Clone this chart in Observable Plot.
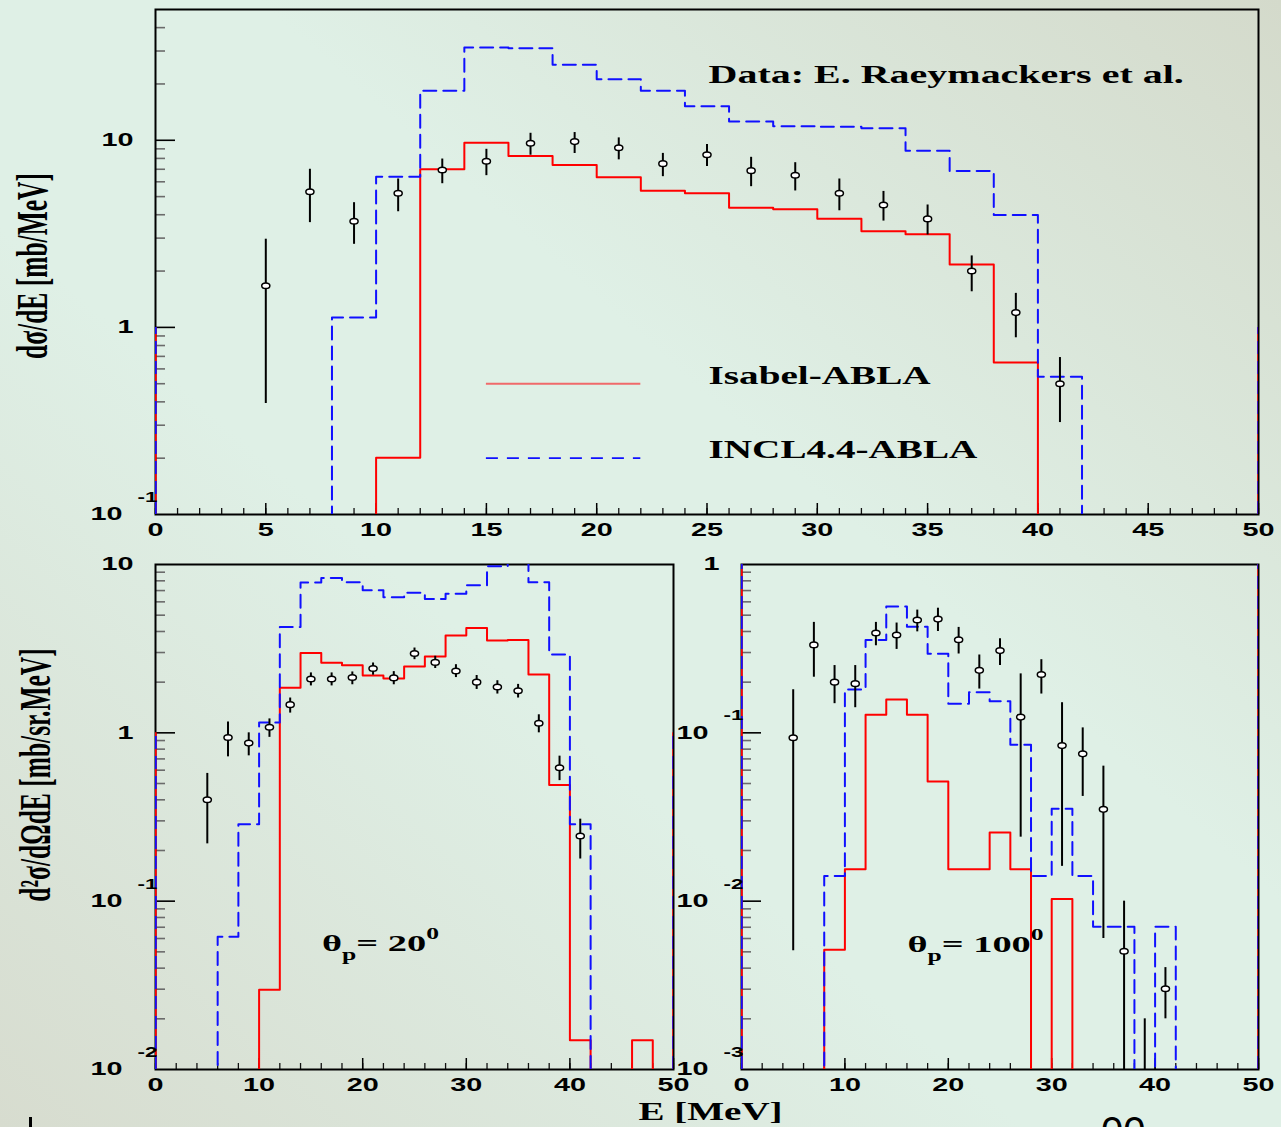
<!DOCTYPE html>
<html>
<head>
<meta charset="utf-8">
<script src="https://cdn.jsdelivr.net/npm/d3@7"></script>
<script src="https://cdn.jsdelivr.net/npm/@observablehq/plot@0.6"></script>
<style>
  html, body { margin: 0; padding: 0; background: #dcebe2; }
  #page { position: relative; width: 1281px; height: 1127px; overflow: hidden;
    background: linear-gradient(to bottom left, #d4dacb 0%, #dff0e6 40%, #dff0e6 60%, #d7dccf 100%); }
  #page svg { position: absolute; }
  .artifact { position: absolute; font-family: 'Liberation Sans', Arial, sans-serif; color: #000; }
</style>
</head>
<body>
<div id="page"></div>
<script>
// ---------------- DATA ----------------
// histogram bins (2 MeV wide), low edges
const binLow = [0,2,4,6,8,10,12,14,16,18,20,22,24,26,28,30,32,34,36,38,40,42,44,46,48];
const binHigh = 50;

// Top panel: d sigma / dE [mb/MeV]
const topIsabel = [0,0,0,0,0, 0.201,7.0,9.7,8.24,7.38,6.34,5.38,5.21,4.36,4.28,3.81,3.26,3.15,2.17,0.65, 0,0,0,0,0];
const topIncl   = [0,0,0,0, 1.13,6.39,18.4,31.3,31.0,25.3,21.2,18.4,15.2,12.6,11.9,11.8,11.6,8.8,6.85,3.99,0.544, 0,0,0,0];
const topDataE  = [5,7,9,11,13,15,17,19,21,23,25,27,29,31,33,35,37,39,41];
const topDataV  = [1.67,5.31,3.69,5.21,6.94,7.72,9.64,9.84,9.13,7.5,8.37,6.88,6.5,5.21,4.51,3.8,2.0,1.2,0.5];
const topDataLo = [0.392,3.63,2.78,4.15,5.86,6.47,8.32,8.5,7.86,6.39,7.25,5.65,5.36,4.2,3.7,3.12,1.55,0.88,0.31];
const topDataHi = [2.96,7.0,4.64,6.21,7.94,8.95,10.9,11.0,10.3,8.51,9.5,8.11,7.59,6.21,5.33,4.51,2.41,1.52,0.69];

// Bottom-left panel: theta_p = 20 deg, d2sigma/dOmega dE [mb/sr.MeV]
const blIsabel = [0,0,0,0,0, 0.0298,1.85,2.98,2.61,2.52,2.19,2.1,2.48,2.84,3.78,4.19,3.54,3.56,2.22,0.49,0.0149, 0,0,0.0149,0];
const blIncl   = [0,0,0, 0.0615,0.286,1.15,4.25,7.82,8.3,7.85,7.04,6.4,6.8,6.23,6.7,7.54,9.77,10.3,7.85,2.92,0.286, 0,0,0,0];
const blDataE  = [5,7,9,11,13,15,17,19,21,23,25,27,29,31,33,35,37,39,41];
const blDataV  = [0.4,0.939,0.869,1.08,1.47,2.09,2.09,2.13,2.41,2.12,2.96,2.62,2.33,2.0,1.87,1.78,1.14,0.62,0.244];
const blDataLo = [0.219,0.72,0.73,0.94,1.31,1.9,1.9,1.93,2.2,1.93,2.72,2.41,2.13,1.81,1.7,1.61,1.0,0.52,0.178];
const blDataHi = [0.574,1.16,1.0,1.21,1.61,2.27,2.27,2.3,2.6,2.31,3.19,2.85,2.54,2.19,2.04,1.94,1.28,0.727,0.307];

// Bottom-right panel: theta_p = 100 deg
const brIsabel = [0,0,0,0, 0.00514,0.0155,0.128,0.158,0.128,0.0514,0.0155,0.0155,0.0256,0.0155, 0,0.0103, 0,0,0,0,0,0,0,0,0];
const brIncl   = [0,0,0,0, 0.0141,0.181,0.356,0.563,0.427,0.295,0.149,0.174,0.154,0.085,0.0141,0.0354,0.0141,0.00705,0.00705,0,0.00705, 0,0,0,0];
const brDataE  = [5,7,9,11,13,15,17,19,21,23,25,27,29,31,33,35,37,39,41];
const brDataV  = [0.0934,0.333,0.2,0.196,0.392,0.381,0.468,0.474,0.357,0.235,0.308,0.124,0.222,0.084,0.075,0.0351,0.00504,0.0008,0.00302];
const brDataLo = [0.00508,0.214,0.149,0.141,0.329,0.313,0.398,0.4,0.294,0.182,0.251,0.024,0.17,0.0161,0.0419,0.006,0.0005,0.0003,0.002];
const brDataHi = [0.18,0.453,0.251,0.251,0.453,0.449,0.536,0.55,0.423,0.29,0.362,0.224,0.272,0.151,0.107,0.0634,0.01,0.002,0.00403];

// histogram outer edge segments (x positions)
const panelEdges = [0, 50];

// ticks & tick labels
const topXMinor = [0,1,2,3,4,5,6,7,8,9,10,11,12,13,14,15,16,17,18,19,20,21,22,23,24,25,26,27,28,29,30,31,32,33,34,35,36,37,38,39,40,41,42,43,44,45,46,47,48,49,50];
const topXMajor = [0,5,10,15,20,25,30,35,40,45,50];
const topXLabels = [0,5,10,15,20,25,30,35,40,45,50];
const topYMinor = [0.2,0.3,0.4,0.5,0.6,0.7,0.8,0.9,2,3,4,5,6,7,8,9,20,30,40];
const topYMajor = [1,10];
const topYPlain = [{v: 1, t: "1"}, {v: 10, t: "10"}];
const topYExp = [{v: 0.1, e: "-1"}];

const botXMinor = [0,2,4,6,8,10,12,14,16,18,20,22,24,26,28,30,32,34,36,38,40,42,44,46,48,50];
const botXMajor = [0,10,20,30,40,50];
const botXLabels = [0,10,20,30,40,50];
const blYMinor = [0.02,0.03,0.04,0.05,0.06,0.07,0.08,0.09,0.2,0.3,0.4,0.5,0.6,0.7,0.8,0.9,2,3,4,5,6,7,8,9];
const blYMajor = [0.1,1];
const blYPlain = [{v: 1, t: "1"}, {v: 10, t: "10"}];
const blYExp = [{v: 0.1, e: "-1"}, {v: 0.01, e: "-2"}];
const brYMinor = [0.002,0.003,0.004,0.005,0.006,0.007,0.008,0.009,0.02,0.03,0.04,0.05,0.06,0.07,0.08,0.09,0.2,0.3,0.4,0.5,0.6,0.7,0.8,0.9];
const brYMajor = [0.01,0.1];
const brYPlain = [{v: 1, t: "1"}];
const brYExp = [{v: 0.1, e: "-1"}, {v: 0.01, e: "-2"}, {v: 0.001, e: "-3"}];

const legendLabels = ["Isabel-ABLA", "INCL4.4-ABLA"];

// ---------------- DRAWING ----------------
const SERIF = "'Liberation Serif', 'Times New Roman', serif";
const SANS = "'Liberation Sans', Arial, sans-serif";
const RED = "#ff0000";
const BLUE = "#1010ff";
const DASH = "13,7";
const STRETCH = 1.6;
const STRETCH_ROT = 1.7;
const NS = "http://www.w3.org/2000/svg";

function histPoints(vals, floor) {
  const pts = binLow.map((e, i) => ({E: e, v: vals[i] > 0 ? vals[i] : floor}));
  pts.push({E: binHigh, v: pts[pts.length - 1].v});
  return pts;
}
function points(E, V, lo, hi) {
  return E.map((e, i) => ({E: e, v: V[i], lo: lo[i], hi: hi[i]}));
}

function markup(svg) {
  svg.querySelectorAll("text").forEach(t => {
    const s = t.textContent;
    if (!/[_^]\{/.test(s)) return;
    const parts = s.split(/([_^]\{[^}]*\})/).filter(p => p);
    t.textContent = "";
    let shift = 0;
    parts.forEach(p => {
      const ts = document.createElementNS(NS, "tspan");
      let target = 0, txt = p;
      if (p.startsWith("_{")) { target = 9; txt = p.slice(2, -1); ts.setAttribute("font-size", 16); }
      else if (p.startsWith("^{")) { target = -12; txt = p.slice(2, -1); ts.setAttribute("font-size", 16); }
      if (target - shift !== 0) ts.setAttribute("dy", target - shift);
      shift = target;
      ts.textContent = txt;
      t.appendChild(ts);
    });
  });
}
function stretch(svg) {
  svg.querySelectorAll("text").forEach(t => {
    let tr = t.getAttribute("transform");
    if (tr == null) {
      const x = parseFloat(t.getAttribute("x")) || 0;
      t.removeAttribute("x");
      tr = `translate(${x},0)`;
    }
    tr += /rotate/.test(tr) ? ` scale(1,${STRETCH_ROT})` : ` scale(${STRETCH},1)`;
    t.setAttribute("transform", tr);
  });
}
function ellipses(svg) {
  svg.querySelectorAll("circle").forEach(c => {
    if (!c.hasAttribute("cx")) return;
    const e = document.createElementNS(NS, "ellipse");
    const r = +c.getAttribute("r") || 2.8;
    e.setAttribute("cx", c.getAttribute("cx"));
    e.setAttribute("cy", c.getAttribute("cy"));
    e.setAttribute("rx", r * 1.45);
    e.setAttribute("ry", r);
    c.replaceWith(e);
  });
}

function panel(cfg) {
  const {left, top, width, height, margins: [mT, mR, mB, mL], yDomain, isabel, incl, data,
         xMinor, xMajor, xLabels, yMinor, yMajor, yPlain, yExp, extra = []} = cfg;
  const fw = width - mL - mR, fh = height - mT - mB;
  const floor = yDomain[0] / 1e4;
  const lab = {fontFamily: SANS, fontWeight: "bold", fontSize: 18};
  const svg = Plot.plot({
    width, height, marginTop: mT, marginRight: mR, marginBottom: mB, marginLeft: mL,
    style: {background: "transparent", overflow: "visible", maxWidth: "none",
            position: "absolute", left: left + "px", top: top + "px"},
    x: {domain: [0, 50], axis: null},
    y: {type: "log", domain: yDomain, axis: null},
    marks: [
      Plot.tickX(xMinor, {x: d => d, insetTop: fh - 6, stroke: "#111", strokeWidth: 1.3}),
      Plot.tickX(xMajor, {x: d => d, insetTop: fh - 11, stroke: "#000", strokeWidth: 1.5}),
      Plot.tickY(yMinor, {y: d => d, insetRight: fw - 10, stroke: "#6b6b6b", strokeWidth: 1.6}),
      Plot.tickY(yMajor, {y: d => d, insetRight: fw - 20, stroke: "#000", strokeWidth: 1.6}),
      Plot.frame({stroke: "#000", strokeWidth: 2}),
      Plot.ruleX(panelEdges, {x: d => d, y1: yDomain[0], y2: 1, stroke: RED, strokeWidth: 2.4, clip: true}),
      Plot.ruleX(panelEdges, {x: d => d, y1: yDomain[0], y2: 1, stroke: BLUE, strokeWidth: 2.4, strokeDasharray: DASH, clip: true}),
      Plot.line(histPoints(isabel, floor), {x: "E", y: "v", curve: "step-after", stroke: RED, strokeWidth: 2, clip: true}),
      Plot.line(histPoints(incl, floor), {x: "E", y: "v", curve: "step-after", stroke: BLUE, strokeWidth: 2, strokeDasharray: DASH, clip: true}),
      Plot.ruleX(data, {x: "E", y1: "lo", y2: "hi", stroke: "#000", strokeWidth: 2, clip: true}),
      Plot.dot(data, {x: "E", y: "v", r: 2.8, fill: "#fff", stroke: "#000", strokeWidth: 1.5, clip: true}),
      Plot.text(xLabels, {x: d => d, text: d => String(d), frameAnchor: "bottom", dy: 16, lineAnchor: "middle", textAnchor: "middle", ...lab}),
      Plot.text(yPlain, {y: "v", text: "t", frameAnchor: "left", dx: -22, textAnchor: "end", lineAnchor: "middle", ...lab}),
      Plot.text(yExp, {y: "v", text: () => "10", frameAnchor: "left", dx: -33, textAnchor: "end", lineAnchor: "middle", ...lab}),
      Plot.text(yExp, {y: "v", text: "e", frameAnchor: "left", dx: 2, dy: -17, textAnchor: "end", lineAnchor: "middle", ...lab, fontSize: 14}),
      ...extra
    ]
  });
  markup(svg);
  stretch(svg);
  ellipses(svg);
  return svg;
}

const page = document.getElementById("page");
const serifBold = {fontFamily: SERIF, fontWeight: "bold"};

page.appendChild(panel({
  left: 0, top: 0, width: 1281, height: 545, margins: [9, 23, 31, 155],
  yDomain: [0.1, 50], isabel: topIsabel, incl: topIncl,
  data: points(topDataE, topDataV, topDataLo, topDataHi),
  xMinor: topXMinor, xMajor: topXMajor, xLabels: topXLabels,
  yMinor: topYMinor, yMajor: topYMajor, yPlain: topYPlain, yExp: topYExp,
  extra: [
    Plot.text(["Data: E. Raeymackers et al."], {x: 25.07, y: 20.25, text: d => d, textAnchor: "start", lineAnchor: "bottom", fontSize: 25, ...serifBold}),
    Plot.ruleY([0.5], {x1: 15, x2: 22, stroke: "#f06a6a", strokeWidth: 2}),
    Plot.ruleY([0.2], {x1: 15, x2: 22, stroke: BLUE, strokeWidth: 1.6, strokeDasharray: "12,9"}),
    Plot.text([legendLabels[0]], {x: 25.07, y: 0.497, text: d => d, textAnchor: "start", lineAnchor: "bottom", fontSize: 24.5, ...serifBold}),
    Plot.text([legendLabels[1]], {x: 25.07, y: 0.201, text: d => d, textAnchor: "start", lineAnchor: "bottom", fontSize: 24.5, ...serifBold}),
    Plot.text(["dσ/dE [mb/MeV]"], {text: d => d, frameAnchor: "left", dx: -122, dy: 4, rotate: -90, textAnchor: "middle", lineAnchor: "middle", fontSize: 25.5, ...serifBold})
  ]
}));

page.appendChild(panel({
  left: 0, top: 545, width: 700, height: 560, margins: [19, 27, 36, 155],
  yDomain: [0.01, 10], isabel: blIsabel, incl: blIncl,
  data: points(blDataE, blDataV, blDataLo, blDataHi),
  xMinor: botXMinor, xMajor: botXMajor, xLabels: botXLabels,
  yMinor: blYMinor, yMajor: blYMajor, yPlain: blYPlain, yExp: blYExp,
  extra: [
    Plot.text(["θ_{p}= 20^{0}"], {x: 16.08, y: 0.0503, text: d => d, textAnchor: "start", lineAnchor: "bottom", fontSize: 24, ...serifBold}),
    Plot.text(["d²σ/dΩdE [mb/sr.MeV]"], {text: d => d, frameAnchor: "left", dx: -119, dy: -42, rotate: -90, textAnchor: "middle", lineAnchor: "middle", fontSize: 25.5, ...serifBold})
  ]
}));

page.appendChild(panel({
  left: 660, top: 545, width: 621, height: 560, margins: [19, 23, 36, 81],
  yDomain: [0.001, 1], isabel: brIsabel, incl: brIncl,
  data: points(brDataE, brDataV, brDataLo, brDataHi),
  xMinor: botXMinor, xMajor: botXMajor, xLabels: botXLabels,
  yMinor: brYMinor, yMajor: brYMajor, yPlain: brYPlain, yExp: brYExp,
  extra: [
    Plot.text(["θ_{p}= 100^{0}"], {x: 16.05, y: 0.005, text: d => d, textAnchor: "start", lineAnchor: "bottom", fontSize: 24, ...serifBold}),
    Plot.text(["E [MeV]"], {text: d => d, frameAnchor: "bottom-left", dx: -31, dy: 50, textAnchor: "middle", lineAnchor: "bottom", fontSize: 24.4, ...serifBold})
  ]
}));

// cut-off slide artifacts at the bottom edge
const pg = document.createElement("div");
pg.className = "artifact";
pg.style.cssText = "left:1101px;top:1111px;font-size:40px;line-height:1;";
pg.textContent = "00";
page.appendChild(pg);
const bar = document.createElement("div");
bar.className = "artifact";
bar.style.cssText = "left:29px;top:1117px;width:3px;height:12px;background:#000;";
page.appendChild(bar);
</script>
</body>
</html>
